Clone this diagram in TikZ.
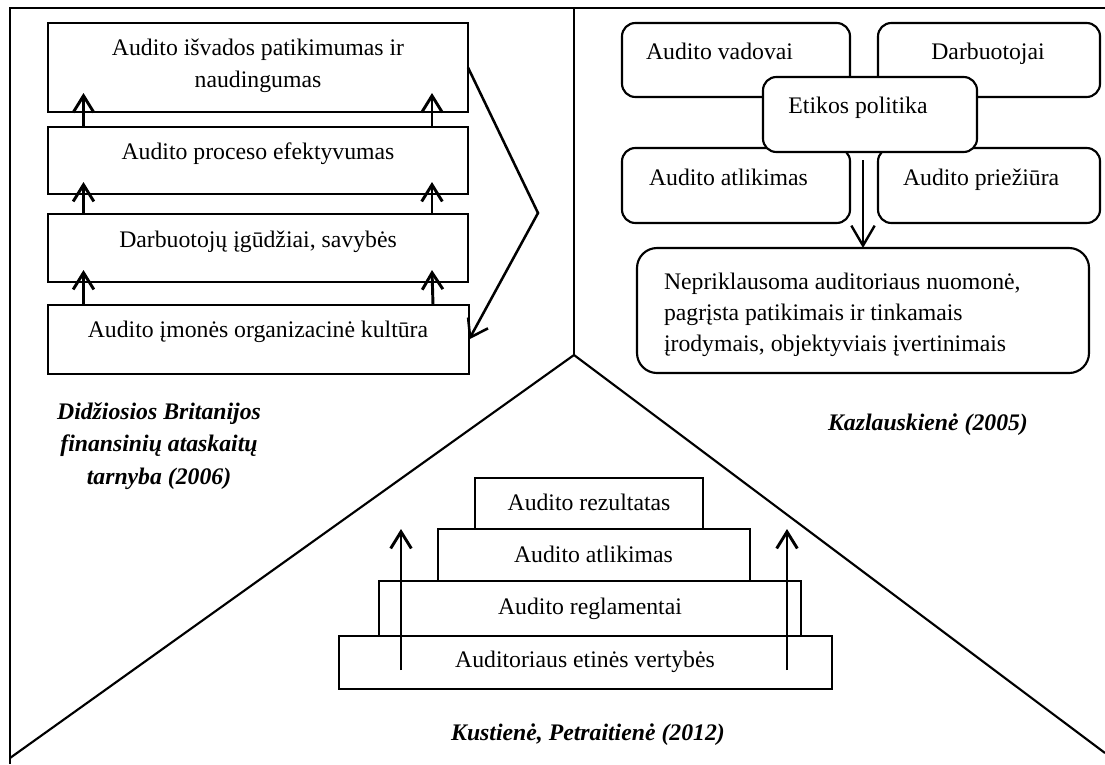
\documentclass[tikz,border=0pt]{standalone}
\usepackage{fontspec}
\setmainfont{Liberation Serif}
\usetikzlibrary{arrows.meta,fit,calc}
\begin{document}
\begin{tikzpicture}[x=0.75pt,y=-0.75pt,
  every node/.style={inner sep=0pt, outer sep=0pt},
  frame/.style={line width=1.6pt},
  sqbox/.style={draw, line width=1.5pt, fill=white, inner sep=0pt},
  rbox/.style={draw, line width=1.6pt, fill=white, inner sep=0pt, rounded corners=10pt},
  txt/.style={anchor=base, font=\fontsize{17.8}{24}\selectfont},
  cite/.style={anchor=base, font=\fontsize{17.8}{24.4}\selectfont\bfseries\itshape},
  uparrow/.style={line width=2.2pt, -{Straight Barb[length=12.5pt,width=15.5pt]}},
  downarrow/.style={line width=1.8pt, -{Straight Barb[length=15pt,width=17.5pt]}},
  bracket/.style={line width=1.9pt, -{Straight Barb[length=12.5pt,width=17pt]}}
]
\useasboundingbox (0,0) rectangle (1105,764);
\fill[white] (0,0) rectangle (1105,764);

% outer frame split into three panels
\coordinate (tl) at (10,8);
\coordinate (tr) at (1105,8);
\coordinate (bl) at (10,764);
\coordinate (top) at (574,8);
\coordinate (hub) at (574,355);
\coordinate (lend) at (10,758);
\coordinate (rend) at (1105,753);
\draw[frame] (tr) -- (tl) -- (bl);
\draw[frame] (top) -- (hub);
\draw[frame] (lend) -- (hub) -- (rend);

% left panel: four stacked levels
\node[sqbox, fit={(47.5,23) (468,112)}] (l1) {};
\node[sqbox, fit={(47.5,127) (468,194)}] (l2) {};
\node[sqbox, fit={(47.5,214) (468,282)}] (l3) {};
\node[sqbox, fit={(47.5,305) (469,374)}] (l4) {};
\node[txt] (l1t) at (258,55) {\begin{tabular}[t]{@{}c@{}}Audito išvados patikimumas ir\\naudingumas\end{tabular}};
\node[txt] (l2t) at (258,159) {Audito proceso efektyvumas};
\node[txt] (l3t) at (258,247) {Darbuotojų įgūdžiai, savybės};
\node[txt] (l4t) at (258,337) {Audito įmonės organizacinė kultūra};

\draw[uparrow] ([shift={(36,0)}]l2.north west) -- ([shift={(36,-19)}]l1.south west);
\draw[uparrow] ([shift={(-36,0)}]l2.north east) -- ([shift={(-36,-19)}]l1.south east);
\draw[uparrow] ([shift={(36,0)}]l3.north west) -- ([shift={(36,-12)}]l2.south west);
\draw[uparrow] ([shift={(-36,0)}]l3.north east) -- ([shift={(-36,-12)}]l2.south east);
\draw[uparrow] ([shift={(36,0)}]l4.north west) -- ([shift={(36,-12)}]l3.south west);
\draw[uparrow] ([shift={(-36,0)}]l4.north east) -- ([shift={(-36,-12)}]l3.south east);

\coordinate (vx) at (538,213);
\draw[bracket] (l1.east) -- (vx) -- (l4.east);

\node[cite] (src1) at (159,419) {\begin{tabular}[t]{@{}c@{}}Didžiosios Britanijos\\finansinių ataskaitų\\tarnyba (2006)\end{tabular}};

% right panel: rounded boxes around the ethics policy
\node[rbox, fit={(622,23) (850,97)}] (vad) {};
\node[rbox, fit={(878,23) (1100,97)}] (darb) {};
\node[rbox, fit={(622,148) (850,223)}] (atl) {};
\node[rbox, fit={(878,148) (1100,223)}] (prie) {};
\node[rbox, fit={(763,77) (977,152)}] (eth) {};
\node[rbox, rounded corners=15pt, fit={(637,248) (1089,373)}] (nuom) {};

\node[txt, anchor=base west] (vadt) at (646,59) {Audito vadovai};
\node[txt] (darbt) at (988,59) {Darbuotojai};
\node[txt] (etht) at (858,113) {Etikos politika};
\node[txt, anchor=base west] (atlt) at (649,185) {Audito atlikimas};
\node[txt, anchor=base west] (priet) at (903,185) {Audito priežiūra};
\node[txt, anchor=base west, font=\fontsize{17.8}{23.3}\selectfont] (nuomt) at (664,289)
  {\begin{tabular}[t]{@{}l@{}}Nepriklausoma auditoriaus nuomonė,\\pagrįsta patikimais ir tinkamais\\įrodymais, objektyviais įvertinimais\end{tabular}};

\draw[downarrow] ($(nuom.north |- eth.south)+(0,8)$) -- (nuom.north);

\node[cite] (src2) at (928,430) {Kazlauskienė (2005)};

% bottom panel: stepped pyramid
\node[sqbox, fit={(338.6,636) (832,689)}] (p4) {};
\node[sqbox, fit={(379,581) (801,636)}] (p3) {};
\node[sqbox, fit={(437.5,529) (750,581)}] (p2) {};
\node[sqbox, fit={(475,478) (703,529)}] (p1) {};
\node[txt] (p1t) at (589,510) {Audito rezultatas};
\node[txt] (p2t) at (593.5,562) {Audito atlikimas};
\node[txt] (p3t) at (590,614) {Audito reglamentai};
\node[txt] (p4t) at (585,667) {Auditoriaus etinės vertybės};

\draw[uparrow] ([shift={(62.4,-19)}]p4.south west) -- ++(0,-141);
\draw[uparrow] ([shift={(-45,-19)}]p4.south east) -- ++(0,-141);

\node[cite] (src3) at (588,740) {Kustienė, Petraitienė (2012)};
\end{tikzpicture}
\end{document}
